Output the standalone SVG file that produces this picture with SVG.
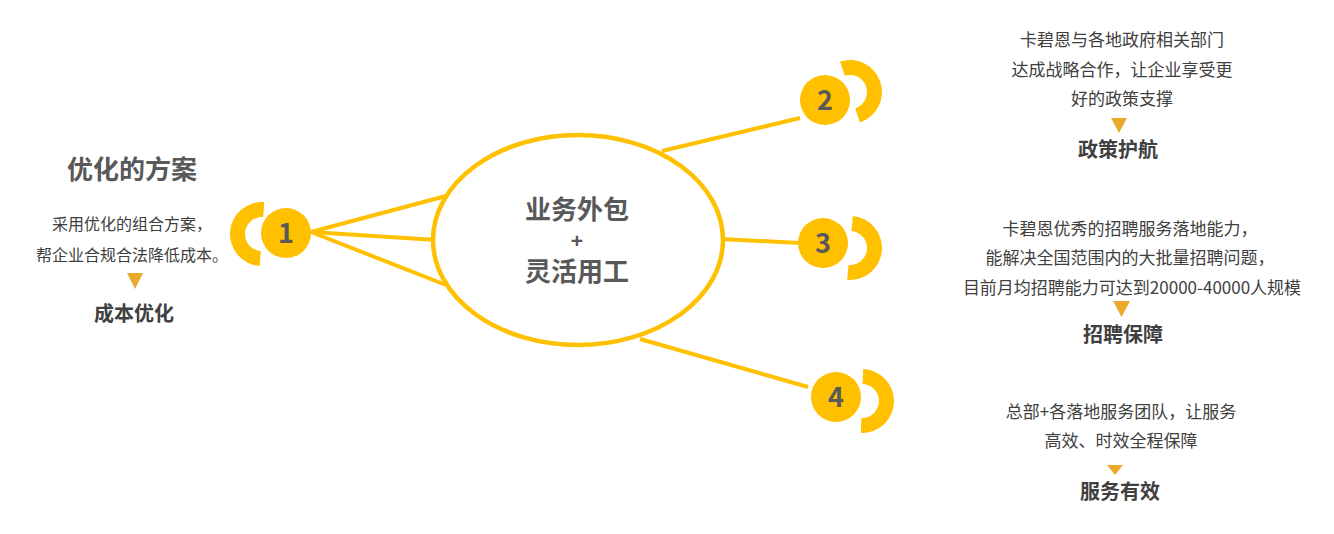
<svg xmlns="http://www.w3.org/2000/svg" width="1334" height="534" viewBox="0 0 1334 534">
<defs>
<style>
text{font-family:"Noto Sans CJK SC","Noto Sans",sans-serif;text-anchor:middle}
.ln{stroke:#FFC000;stroke-width:4;fill:none}
.dot{fill:#FFC000}
.num{font-size:27px;font-weight:bold;fill:#595959}
.body{font-size:16px;fill:#404040}
.bodyR{font-size:17px;fill:#404040}
.lab{font-size:20px;font-weight:bold;fill:#404040}
.title{font-size:26px;font-weight:bold;fill:#595959}
.tri{fill:#E9A92A}
</style>
<path id="halfL" d="M0,-32 A32,32 0 0 0 0,32 L0,17 A17,17 0 0 1 0,-17 Z" fill="#FFC000"/>
</defs>
<rect width="1334" height="534" fill="#ffffff"/>
<g id="connectors">
<line class="ln" x1="311" y1="232" x2="446" y2="196"/>
<line class="ln" x1="311" y1="232" x2="436" y2="240"/>
<line class="ln" x1="311" y1="232" x2="446" y2="285"/>
<line class="ln" x1="662" y1="151" x2="800" y2="118"/>
<line class="ln" x1="720" y1="239" x2="800" y2="243"/>
<line class="ln" x1="640" y1="339" x2="808" y2="387"/>
</g>
<g id="center">
<ellipse cx="578" cy="240" rx="145" ry="105" fill="#ffffff" stroke="#FFC000" stroke-width="4.5"/>
<text class="title" x="577" y="219">业务外包</text>
<text x="577" y="248" style="font-family:'Liberation Sans',sans-serif;font-size:21px;font-weight:bold;fill:#595959">+</text>
<text class="title" x="577" y="281">灵活用工</text>
</g>
<g id="node1">
<use href="#halfL" transform="translate(262,234) rotate(4)"/>
<circle class="dot" cx="286" cy="233" r="25"/>
<text class="num" x="286" y="243">1</text>
<text class="title" x="132" y="179">优化的方案</text>
<text class="body" x="132" y="230">采用优化的组合方案，</text>
<text class="body" x="132" y="261">帮企业合规合法降低成本。</text>
<polygon class="tri" points="127,273 143,273 135,289"/>
<text class="lab" x="134" y="321">成本优化</text>
</g>
<g id="node2">
<use href="#halfL" transform="translate(850,92) rotate(-18) scale(-1,1)"/>
<circle class="dot" cx="825" cy="100" r="25"/>
<text class="num" x="825" y="110">2</text>
<text class="bodyR" x="1122" y="46">卡碧恩与各地政府相关部门</text>
<text class="bodyR" x="1122" y="76">达成战略合作，让企业享受更</text>
<text class="bodyR" x="1122" y="105">好的政策支撑</text>
<polygon class="tri" points="1111,118 1127,118 1119,133"/>
<text class="lab" x="1118" y="157">政策护航</text>
</g>
<g id="node3">
<use href="#halfL" transform="translate(850,248) rotate(5) scale(-1,1)"/>
<circle class="dot" cx="823" cy="243" r="25"/>
<text class="num" x="823" y="253">3</text>
<text class="bodyR" x="1130" y="235">卡碧恩优秀的招聘服务落地能力，</text>
<text class="bodyR" x="1130" y="264">能解决全国范围内的大批量招聘问题，</text>
<text class="bodyR" x="1132" y="294">目前月均招聘能力可达到20000-40000人规模</text>
<polygon class="tri" points="1113,301 1130,301 1121.5,317"/>
<text class="lab" x="1123" y="342">招聘保障</text>
</g>
<g id="node4">
<use href="#halfL" transform="translate(862,401) rotate(2) scale(-1,1)"/>
<circle class="dot" cx="836" cy="397" r="25"/>
<text class="num" x="836" y="407">4</text>
<text class="bodyR" x="1121" y="418">总部+各落地服务团队，让服务</text>
<text class="bodyR" x="1121" y="447">高效、时效全程保障</text>
<polygon class="tri" points="1107,465 1123,465 1115,475"/>
<text class="lab" x="1120" y="499">服务有效</text>
</g>
</svg>
